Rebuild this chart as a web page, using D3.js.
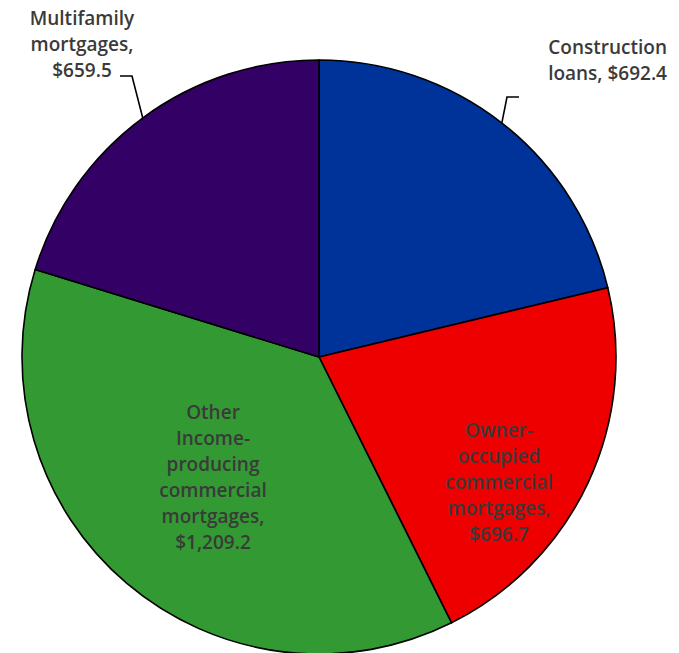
<!DOCTYPE html>
<html><head><meta charset="utf-8">
<script src="https://cdn.jsdelivr.net/npm/d3@7"></script>
<style>html,body{margin:0;padding:0;background:#fff;}</style>
</head><body>
<svg id="chart" width="679" height="653"></svg>
<script>
const categories = ["Construction loans", "Owner-occupied commercial mortgages", "Other Income-producing commercial mortgages", "Multifamily mortgages"];
const values = [692.4, 696.7, 1209.2, 659.5];
const labelLines = [
  ["Construction", "loans, $692.4"],
  ["Owner-", "occupied", "commercial", "mortgages,", "$696.7"],
  ["Other", "Income-", "producing", "commercial", "mortgages,", "$1,209.2"],
  ["Multifamily", "mortgages,", "$659.5"]
];
const colors = ["#003399", "#EE0000", "#339933", "#330066"];

const svg = d3.select("#chart");
const cx = 319, cy = 357, r = 297;
const g = svg.append("g").attr("transform", `translate(${cx},${cy})`);
const pie = d3.pie().sort(null).value(d => d)(values);
const arc = d3.arc().innerRadius(0).outerRadius(r);
g.selectAll("path").data(pie).join("path")
  .attr("d", arc)
  .attr("fill", (d, i) => colors[i])
  .attr("stroke", "#000").attr("stroke-width", 1.6).attr("stroke-linejoin", "round");

const font = "Open Sans, sans-serif";
const fs = 19, lh = 26;
const place = [
  {x: 667, y: 47, anchor: "end"},
  {x: 499, y: 430, anchor: "middle"},
  {x: 213, y: 412, anchor: "middle"},
  {x: 82, y: 18, anchor: "middle"}
];
labelLines.forEach((lines, i) => {
  const t = svg.append("text")
    .attr("font-family", font).attr("font-size", fs).attr("font-weight", 600)
    .attr("fill", "#3a3a3a")
    .attr("text-anchor", place[i].anchor);
  lines.forEach((s, j) => {
    t.append("tspan").attr("x", place[i].x).attr("y", place[i].y + j * lh)
      .attr("dy", "0.35em").text(s);
  });
});

function edgePoint(angleDeg) {
  const a = angleDeg * Math.PI / 180;
  return [cx + r * Math.sin(a), cy - r * Math.cos(a)];
}
const leaders = [
  {ang: 38, knee: [507, 97], end: [519, 97]},
  {ang: -36.4, knee: [132, 76], end: [120, 76]}
];
leaders.forEach(l => {
  const p = edgePoint(l.ang);
  svg.append("path")
    .attr("d", d3.line()([p, l.knee, l.end]))
    .attr("fill", "none").attr("stroke", "#000").attr("stroke-width", 1.6);
});
</script>
</body></html>
